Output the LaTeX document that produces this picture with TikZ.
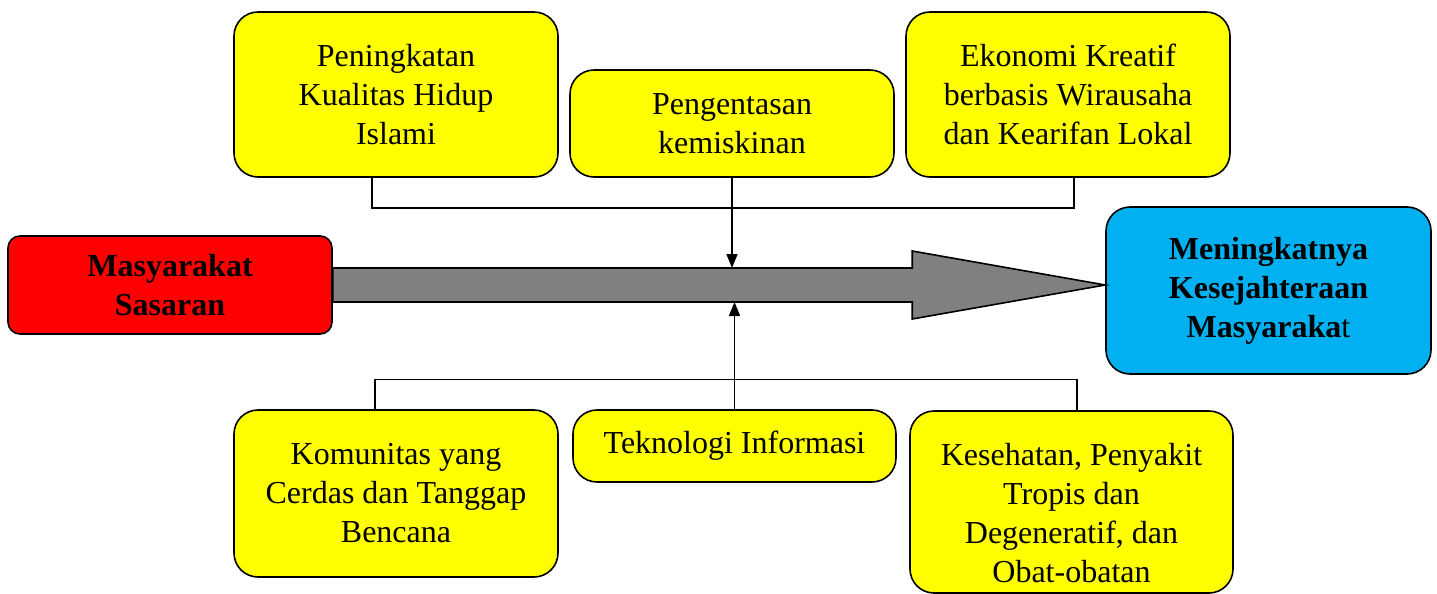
\documentclass[tikz,border=0pt]{standalone}
\usepackage{fontspec}
\setmainfont{Liberation Serif}
\usetikzlibrary{arrows.meta,positioning,calc}
\definecolor{clFactor}{HTML}{FFFF00}
\definecolor{clSource}{HTML}{FF0000}
\definecolor{clGoal}{HTML}{00B0F0}
\definecolor{clShaft}{HTML}{808080}
\tikzset{
  box/.style={rectangle, rounded corners=24pt, draw=black, line width=1.6pt, align=center,
              inner sep=0pt, font=\fontsize{32}{39}\selectfont},
  factor/.style={box, fill=clFactor, minimum width=324pt},
  source/.style={box, fill=clSource, rounded corners=12pt, font=\fontsize{32}{39}\selectfont\bfseries},
  goal/.style={box, fill=clGoal, font=\fontsize{32}{39}\selectfont\bfseries},
  bigarrow/.style={draw=black, line width=1.6pt, fill=clShaft, line join=miter},
  bus/.style={draw=black, line width=1.4pt},
  link/.style={-{Triangle[length=14pt,width=11pt]}, draw=black, line width=1.6pt},
}
\begin{document}
\begin{tikzpicture}[x=1pt, y=-1pt]
  \useasboundingbox (0,0) rectangle (1437,594);
  % end points of the main flow
  \node[source, minimum width=324pt, minimum height=98pt] (src) at (170,285) {Masyarakat\\Sasaran};
  \node[goal, minimum width=325pt, minimum height=167pt] (goal) at (1268.5,290.5)
    {Meningkatnya\\Kesejahteraan\\\textbf{Masyaraka}\mdseries t};
  % factors above
  \node[factor, minimum height=165pt] (top1) at (396,94.5) {Peningkatan\\Kualitas Hidup\\Islami};
  \node[factor, minimum height=107pt] (top2) at (732,123.5) {Pengentasan\\kemiskinan};
  \node[factor, minimum height=165pt] (top3) at (1068,94.5) {Ekonomi Kreatif\\berbasis Wirausaha\\dan Kearifan Lokal};
  % factors below
  \node[factor, minimum height=167pt] (bot1) at (396,493.5) {Komunitas yang\\Cerdas dan Tanggap\\Bencana};
  \node[factor, minimum width=323pt, minimum height=72pt] (bot2) at (734.5,446) {Teknologi Informasi};
  \node[factor, minimum width=323pt, minimum height=182pt] (bot3) at (1071.5,502)
    {\rule{0pt}{44pt}Kesehatan, Penyakit\\Tropis dan\\Degeneratif, dan\\Obat-obatan};
  % big arrow
  \coordinate (tail) at (src.east);
  \coordinate (tip) at (goal.west |- src.east);
  \coordinate (shafttop) at ($(tail)+(0,-17)$);
  \coordinate (shaftbot) at ($(tail)+(0,17)$);
  \draw[bigarrow] (shafttop) -- ($(tip)+(-193,-17)$) -- ($(tip)+(-193,-34)$) -- (tip)
    -- ($(tip)+(-193,34)$) -- ($(tip)+(-193,17)$) -- (shaftbot) -- cycle;
  % connectors
  \draw[bus] ($(top1.south)+(-24,0)$) -- ++(0,30) -| ($(top3.south)+(6,0)$);
  \draw[link] (top2.south) -- (top2.south |- shafttop);
  \draw[bus] ($(bot1.north)+(-21,0)$) -- ++(0,-30) -| ($(bot3.north)+(5.5,0)$);
  \draw[link] (bot2.north) -- (bot2.north |- shaftbot);
\end{tikzpicture}
\end{document}
